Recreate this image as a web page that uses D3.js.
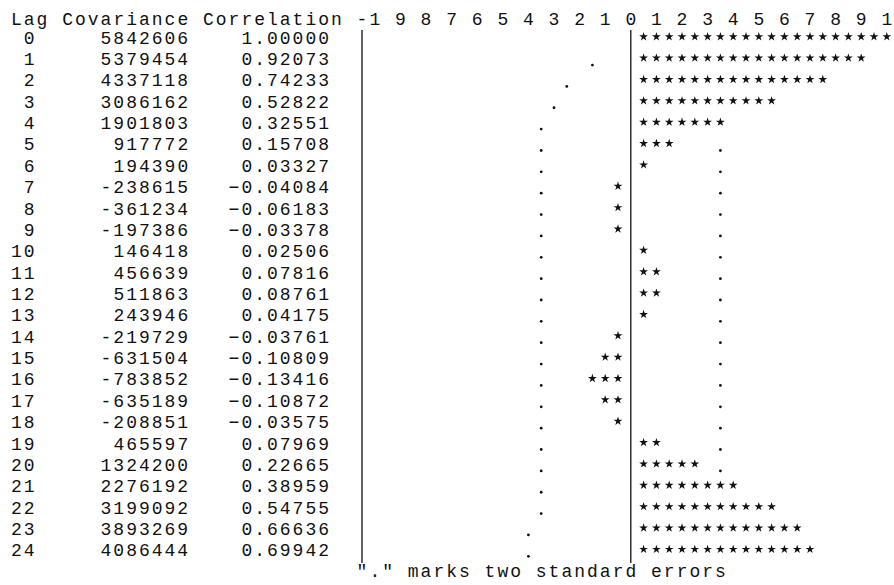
<!DOCTYPE html>
<meta charset="utf-8">
<script src="https://cdn.jsdelivr.net/npm/d3@7/dist/d3.min.js"></script>
<style>
  body { margin: 0; background: #fff; }
  text { font-family: "Liberation Mono", "DejaVu Sans Mono", monospace; font-size: 18px; letter-spacing: 2px; fill: #111; }
</style>
<body>
<div id="chart"></div>
<script>
  // autocorrelation listing, one row per lag
  var lags = [0, 1, 2, 3, 4, 5, 6, 7, 8, 9, 10, 11, 12, 13, 14, 15, 16, 17, 18, 19, 20, 21, 22, 23, 24];

  var covariances = [5842606, 5379454, 4337118, 3086162, 1901803, 917772, 194390,
                     -238615, -361234, -197386, 146418, 456639, 511863, 243946,
                     -219729, -631504, -783852, -635189, -208851, 465597, 1324200,
                     2276192, 3199092, 3893269, 4086444];

  var correlations = [1.00000, 0.92073, 0.74233, 0.52822, 0.32551, 0.15708, 0.03327,
                      -0.04084, -0.06183, -0.03378, 0.02506, 0.07816, 0.08761, 0.04175,
                      -0.03761, -0.10809, -0.13416, -0.10872, -0.03575, 0.07969, 0.22665,
                      0.38959, 0.54755, 0.66636, 0.69942];

  // where the "." marks sit (two standard errors)
  var twoStdErr = [null, 0.15, 0.25, 0.30, 0.35, 0.35, 0.35, 0.35, 0.35, 0.35, 0.35,
                   0.35, 0.35, 0.35, 0.35, 0.35, 0.35, 0.35, 0.35, 0.35, 0.35,
                   0.35, 0.35, 0.40, 0.40];

  var scaleTicks  = [-1, -0.9, -0.8, -0.7, -0.6, -0.5, -0.4, -0.3, -0.2, -0.1, 0,
                     0.1, 0.2, 0.3, 0.4, 0.5, 0.6, 0.7, 0.8, 0.9, 1];
  var scaleLabels = ["-1", "9", "8", "7", "6", "5", "4", "3", "2", "1", "0",
                     "1", "2", "3", "4", "5", "6", "7", "8", "9", "1"];

  var width = 894, height = 585;
  var svg = d3.select("#chart").append("svg")
      .attr("width", width)
      .attr("height", height);

  // character grid of the printout
  var cw = 12.8, ls = 2;
  var col = d3.scaleLinear().domain([0, 1]).range([10, 10 + cw]);
  var x = d3.scaleLinear().domain([-1, 1]).range([col(28.5), col(68.5)]);
  var y = d3.scaleBand().domain(lags).range([27, 561]);
  var mid = function(d) { return y(d) + y.bandwidth() / 2; };

  var fmtCorr = d3.format(".5f");

  // header line
  var head = svg.append("g").attr("class", "header");
  head.selectAll("text.col")
      .data([["Lag", 0], ["Covariance", 4], ["Correlation", 15]])
    .enter().append("text")
      .attr("x", function(d) { return col(d[1]) + 1; })
      .attr("y", 25)
      .text(function(d) { return d[0]; });

  head.selectAll("text.tick")
      .data(scaleTicks)
    .enter().append("text")
      .attr("text-anchor", "end")
      .attr("x", function(d) { return x(d) + cw / 2 + ls - 1; })
      .attr("y", 25)
      .text(function(d, i) { return scaleLabels[i]; });

  // listing columns
  var rows = svg.selectAll("g.row")
      .data(lags)
    .enter().append("g")
      .attr("class", "row");

  rows.append("text")
      .attr("text-anchor", "end")
      .attr("x", col(2) + ls - 1)
      .attr("y", function(d) { return mid(d) + 6; })
      .text(function(d) { return d; });

  rows.append("text")
      .attr("text-anchor", "end")
      .attr("x", col(14) + ls - 1)
      .attr("y", function(d) { return mid(d) + 6; })
      .text(function(d, i) { return covariances[i]; });

  rows.append("text")
      .attr("text-anchor", "end")
      .attr("x", col(25) + ls - 1)
      .attr("y", function(d) { return mid(d) + 6; })
      .text(function(d, i) { return fmtCorr(correlations[i]); });

  // the two vertical bars
  svg.selectAll("line.bar")
      .data([col(27.5), x(0)])
    .enter().append("line")
      .attr("x1", function(d) { return d; })
      .attr("x2", function(d) { return d; })
      .attr("y1", y.range()[0] + 3)
      .attr("y2", y.range()[1] + 2)
      .style("stroke", "#111")
      .style("stroke-width", 1.3);

  // stars: one per 0.05 of correlation
  var starPath = d3.symbol().type(d3.symbolStar).size(24);
  var stars = [];
  correlations.forEach(function(r, i) {
    var n = Math.round(Math.abs(r) * 20), s = r < 0 ? -1 : 1;
    for (var k = 1; k <= n; k++) stars.push({lag: lags[i], v: s * k / 20});
  });
  svg.selectAll("path.star")
      .data(stars)
    .enter().append("path")
      .attr("class", "star")
      .attr("d", starPath)
      .attr("transform", function(d) {
        return "translate(" + x(d.v) + "," + (mid(d.lag) - 1) + ")";
      })
      .style("fill", "#111");

  // "." marks, hidden where the stars run over them
  var dots = [];
  twoStdErr.forEach(function(se, i) {
    if (se == null) return;
    var n = Math.round(Math.abs(correlations[i]) * 20);
    var reach = Math.round(se * 20);
    dots.push({lag: lags[i], v: -se});
    if (correlations[i] < 0 || n < reach) dots.push({lag: lags[i], v: se});
  });
  svg.selectAll("circle.dot")
      .data(dots)
    .enter().append("circle")
      .attr("class", "dot")
      .attr("cx", function(d) { return x(d.v); })
      .attr("cy", function(d) { return mid(d.lag) + 6; })
      .attr("r", 1.4)
      .style("fill", "#111");

  svg.append("text")
      .attr("x", col(27) + 1)
      .attr("y", 577)
      .text("\".\" marks two standard errors");
</script>
</body>
